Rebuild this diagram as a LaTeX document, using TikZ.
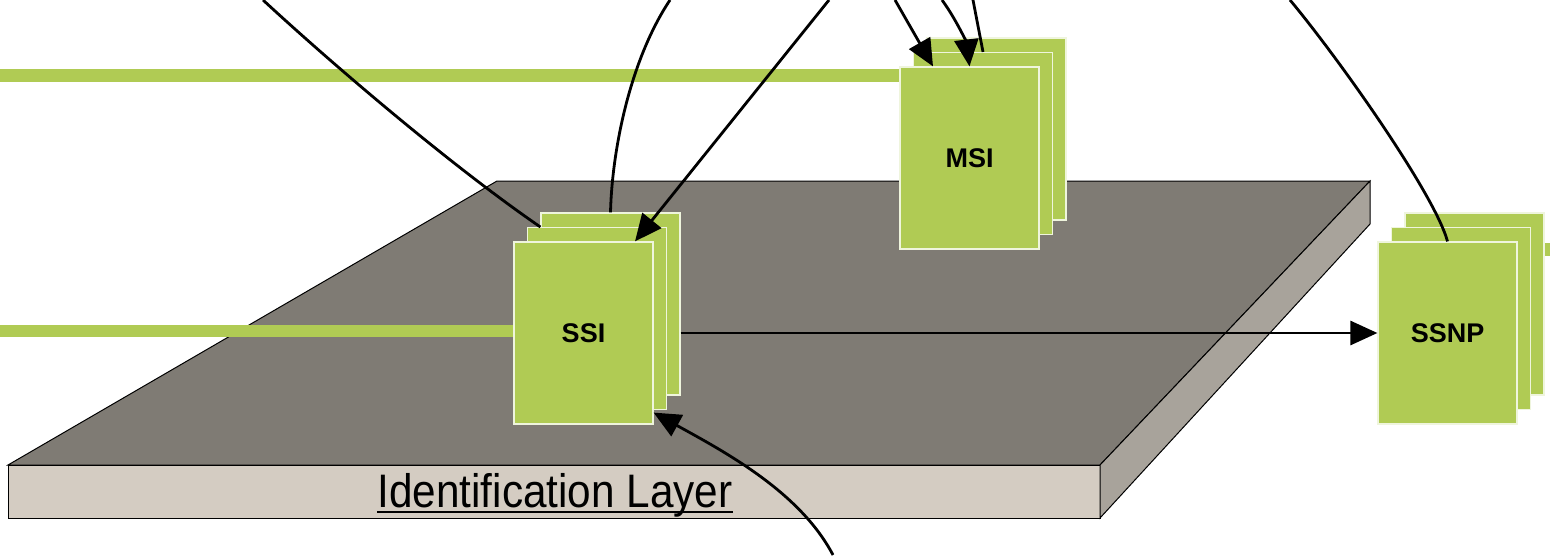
\documentclass[tikz,border=0pt]{standalone}
\usepackage{fontspec}
\setmainfont{Liberation Sans}
\usetikzlibrary{arrows.meta,positioning,calc}
\definecolor{pagegreen}{HTML}{B0CB54}
\definecolor{slabtop}{HTML}{7F7B74}
\definecolor{slabfront}{HTML}{D4CCC2}
\definecolor{slabside}{HTML}{A8A39B}
\tikzset{
  pagebox/.style={rectangle, fill=pagegreen, draw=white!80!pagegreen,
                  line width=1.2pt, minimum width=139pt, minimum height=182pt,
                  inner sep=0pt, font=\fontsize{27}{30}\selectfont\bfseries},
  band/.style={draw=pagegreen, line width=12.5pt},
  link/.style={line width=2.8pt},
  arrow/.style={link, -{Triangle[length=27pt,width=24pt]}},
}

\begin{document}
\begin{tikzpicture}[x=1pt, y=-1pt]
    \useasboundingbox (0,0) rectangle (1550,555);
    \fill[white] (0,0) rectangle (1550,555);

    % The layer slab: top, front and side faces
    \draw[fill=slabtop, line width=1pt]   (497,181) -- (1370,181) -- (1100,465) -- (8,465) -- cycle;
    \draw[fill=slabfront, line width=1pt] (8,465) rectangle (1100,518);
    \draw[fill=slabside, line width=1pt]  (1100,465) -- (1370,181) -- (1370,224) -- (1100,518) -- cycle;
    \node[inner sep=0pt, anchor=base, font=\fontsize{47}{50}\selectfont] (layerlabel) at (555,507)
         {\scalebox{0.9}[1]{Identification Layer}};
    \draw[line width=2.6pt] ([yshift=-5pt]layerlabel.base west) -- ([yshift=-5pt]layerlabel.base east);

    % Free ends at the border of the picture
    \coordinate (topband)   at (0,75.5);
    \coordinate (midband)   at (0,331);
    \coordinate (rightband) at (1550,249.5);
    \coordinate (inA) at (263,0);
    \coordinate (inB) at (670,0);
    \coordinate (inC) at (829,0);
    \coordinate (inD) at (895,0);
    \coordinate (inE) at (942,0);
    \coordinate (inF) at (973,0);
    \coordinate (inG) at (1290,0);
    \coordinate (inH) at (833,555);

    % Green bands, behind the stacks
    \draw[band] (topband) -- (969,75.5);
    \draw[band] (midband) -- (583,331);
    \draw[band] (1474,249.5) -- (rightband);

    % Stacks of pages: back, middle, front
    \node[pagebox] (msi3)  at (996.5,129)  {};
    \node[pagebox] (msi2)  at (983,143.5)  {};
    \node[pagebox] (msi)   at (969.5,158)  {MSI};

    \node[pagebox] (ssi3)  at (610.5,304)  {};
    \node[pagebox] (ssi2)  at (597,318.5)  {};
    \node[pagebox] (ssi)   at (583.5,333)  {SSI};

    \node[pagebox] (ssnp3) at (1474.5,304) {};
    \node[pagebox] (ssnp2) at (1461,318.5) {};
    \node[pagebox] (ssnp)  at (1447.5,333) {SSNP};

    % Connectors into SSI
    \draw[link]  (inA) .. controls (330,62) and (450,165) .. (ssi3.west |- 0,227);
    \draw[link]  (inB) .. controls (630,60) and (612,150) .. (ssi3.north);
    \draw[arrow] (inC) -- ([xshift=51.5pt]ssi.north);
    \draw[arrow] (inH) .. controls (800,492) and (725,452) .. ([yshift=12pt]ssi.south east);

    % Connectors into MSI
    \draw[arrow] (inD) -- ([xshift=-36.5pt]msi.north);
    \draw[arrow] (inE) .. controls (958,22) and (967,45) .. (msi.north);
    \draw[link]  (inF) -- (msi2.north);

    % Connectors into SSNP
    \draw[link]  (inG) .. controls (1340,60) and (1435,195) .. (ssnp.north);
    \draw[arrow] (ssi.east -| ssi3.east) -- (ssnp.west);

  \end{tikzpicture}
\end{document}
